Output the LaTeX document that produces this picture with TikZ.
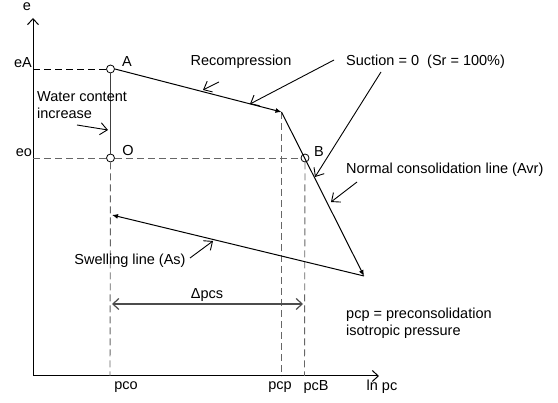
\documentclass[tikz,border=0pt]{standalone}
\usepackage{fontspec}
\setmainfont{Liberation Sans}
\usetikzlibrary{arrows.meta}
\begin{document}
\begin{tikzpicture}[x=1pt,y=-1pt,
  lbl/.style={font=\fontsize{14.5}{17}\selectfont, inner sep=0pt},
  pt/.style={circle,draw,fill=white,minimum size=8pt,inner sep=0pt,line width=0.8pt},
  axis/.style={line width=1pt,-{Straight Barb[length=6pt,width=11pt]}},
  curve/.style={line width=1pt,-{Latex[length=6pt,width=5pt]}},
  pointer/.style={line width=0.9pt,-{Straight Barb[length=7pt,width=12pt]}},
  guide/.style={line width=0.9pt,dash pattern=on 7pt off 4pt},
  gguide/.style={guide,draw=black!60},
  dim/.style={line width=1.2pt,draw=black!70,{Straight Barb[length=6pt,width=11pt]}-{Straight Barb[length=6pt,width=11pt]}}
]
\useasboundingbox (0,0) rectangle (558,403);
% key points
\coordinate (orig) at (33,376);
\coordinate (ytop) at (33,18);
\coordinate (xend) at (379,376);
\coordinate (P) at (281.5,112);
\coordinate (E) at (364,276);
\coordinate (S) at (112,215);
\coordinate (eAax) at (33,69);
\coordinate (eoax) at (33,158);
\coordinate (pcoax) at (110,376);
\coordinate (pcpax) at (281.5,376);
\coordinate (pcBax) at (304.5,376);
\coordinate (dL) at (112,304);
\coordinate (dR) at (303,304);
% axes
\draw[axis] (orig) -- (ytop);
\draw[axis] (orig) -- (xend);
% points
\node[pt] (A) at (110.5,69) {};
\node[pt] (O) at (110.5,158) {};
\node[pt] (B) at (305,158) {};
% guides
\draw[guide] (eAax) -- (A.west);
\draw[gguide] (eoax) -- (O.west);
\draw[gguide] (O.east) -- (B.west);
\draw[gguide] (O.south) -- (pcoax);
\draw[gguide] (P) -- (pcpax);
\draw[gguide] (B.south) -- (pcBax);
% water content line
\draw[line width=1.2pt,draw=black!75] (A.south) -- (O.north);
% curves
\draw[curve] (A.east) -- (P);
\draw[curve] (P) -- (E);
\draw[curve] (E) -- (S);
\draw[dim] (dL) -- (dR);
% labels
\node[lbl] (le) at (27,7) {e};
\node[lbl] (leA) at (23,63) {eA};
\node[lbl] (leo) at (24,153) {eo};
\node[lbl] (lA) at (127,62) {A};
\node[lbl] (lO) at (128,151) {O};
\node[lbl] (lB) at (319,152) {B};
\node[lbl,anchor=north west,align=left] (lw) at (37,91) {Water content\\increase};
\node[lbl] (lrec) at (241,62) {Recompression};
\node[lbl,anchor=west] (lsuc) at (346,62) {Suction = 0\ \ (Sr = 100\%)};
\node[lbl,anchor=west] (lncl) at (346,170) {Normal consolidation line (Avr)};
\node[lbl] (lsw) at (130,261) {Swelling line (As)};
\node[lbl] (ldp) at (207,295) {Δpcs};
\node[lbl,anchor=north west,align=left] (lpcp) at (346,308) {pcp = preconsolidation\\isotropic pressure};
\node[lbl] (tpco) at (126,387) {pco};
\node[lbl] (tpcp) at (280,387) {pcp};
\node[lbl] (tpcB) at (316,387) {pcB};
\node[lbl] (tln) at (382,387) {ln pc};
% pointers
\coordinate (w1) at (77,125);
\coordinate (w2) at (108,130);
\draw[pointer] (w1) -- (w2);
\coordinate (r1) at (219,82);
\coordinate (r2) at (203,90);
\draw[pointer] (r1) -- (r2);
\coordinate (s1) at (334,60);
\coordinate (s2) at (250,104);
\draw[pointer] (s1) -- (s2);
\coordinate (s3) at (381,72);
\coordinate (s4) at (315,177);
\draw[pointer] (s3) -- (s4);
\coordinate (n1) at (357,182);
\coordinate (n2) at (331,202);
\draw[pointer] (n1) -- (n2);
\coordinate (sw1) at (190,258);
\coordinate (sw2) at (213,241);
\draw[pointer] (sw1) -- (sw2);
\end{tikzpicture}
\end{document}
